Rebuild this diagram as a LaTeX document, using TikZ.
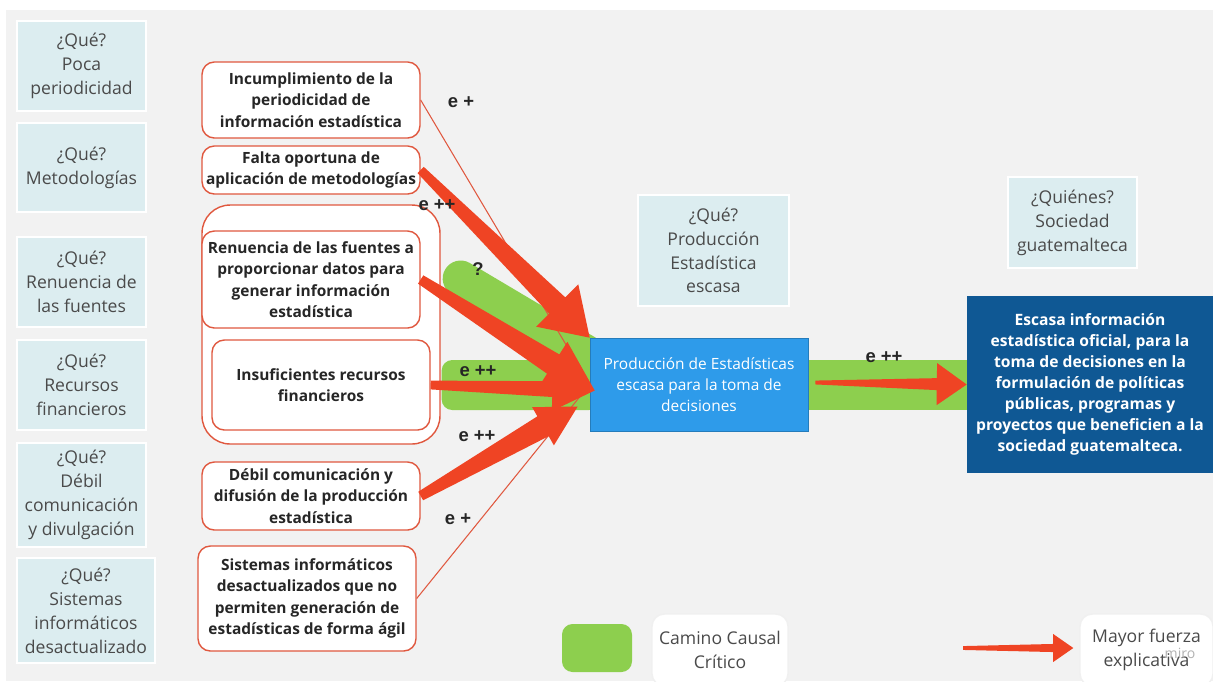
\documentclass[tikz,border=0pt]{standalone}
\usepackage{fontspec}
\setmainfont{Open Sans}
\newfontfamily\lblfont{Liberation Sans}
\usetikzlibrary{calc}
\usetikzlibrary{backgrounds}
\definecolor{fondo}{HTML}{F2F2F2}
\definecolor{celeste}{HTML}{DCEDF0}
\definecolor{grisq}{HTML}{4A4A4A}
\definecolor{rojoborde}{HTML}{E0583F}
\definecolor{rojoflecha}{HTML}{EF4424}
\definecolor{verde}{HTML}{8DCF4E}
\definecolor{azul}{HTML}{2E9BEA}
\definecolor{azuloscuro}{HTML}{0F5894}
\tikzset{
  que/.style={fill=celeste, draw=white, line width=1pt, text=grisq, align=center,
    font=\fontsize{10}{13.6}\selectfont, inner sep=0pt},
  causa/.style={draw=rojoborde, fill=white, line width=0.8pt, rounded corners=7pt, align=center,
    text=black!85, font=\bfseries\fontsize{8.8}{12.2}\selectfont, inner sep=0pt},
  lbl/.style={font=\lblfont\bfseries\fontsize{10.5}{12}\selectfont, text=black!85},
  camino/.style={draw=verde, line width=0.72cm, line cap=round},
  relacion/.style={draw=rojoborde, line width=0.6pt},
  leyenda/.style={fill=white, draw=black!6, line width=0.8pt, rounded corners=7pt, align=center,
    text=grisq, font=\fontsize{10}{13.6}\selectfont, inner sep=0pt}
}
% fat red arrow: from, to, tail, neck, head half widths, head length
\newcommand{\fatarrow}[6]{%
  \coordinate (fa-cuello) at ($(#2)!#6!(#1)$);
  \fill[rojoflecha] ($(#1)!#3!90:(#2)$) -- ($(fa-cuello)!#4!90:(#2)$) -- ($(fa-cuello)!#5!90:(#2)$) -- (#2)
    -- ($(fa-cuello)!#5!-90:(#2)$) -- ($(fa-cuello)!#4!-90:(#2)$) -- ($(#1)!#3!-90:(#2)$) -- cycle;}

\begin{document}
\begin{tikzpicture}[x=0.02cm, y=-0.02cm]
    \useasboundingbox (0,0) rectangle (1213,681);
    \clip (0,0) rectangle (1213,681);
    \begin{scope}[on background layer]
        \fill[fondo] (6,10) rectangle (1213,681);
    \end{scope}

    \node[que, minimum width=2.58cm, minimum height=1.8cm] (q1) at (81.5,66) {¿Qué?\\Poca\\periodicidad};
    \node[que, minimum width=2.58cm, minimum height=1.78cm] (q2) at (81.5,167.5) {¿Qué?\\Metodologías};
    \node[que, minimum width=2.58cm, minimum height=1.8cm] (q3) at (81.5,282) {¿Qué?\\Renuencia de\\las fuentes};
    \node[que, minimum width=2.58cm, minimum height=1.8cm] (q4) at (81.5,385) {¿Qué?\\Recursos\\financieros};
    \node[que, minimum width=2.58cm, minimum height=2.08cm] (q5) at (81.5,495) {¿Qué?\\Débil\\comunicación\\y divulgación};
    \node[que, minimum width=2.76cm, minimum height=2.1cm] (q6) at (86,610.5) {¿Qué?\\Sistemas\\informáticos\\desactualizado};

    \node[causa, minimum width=4.76cm, minimum height=4.78cm, rounded corners=16pt] (grupo) at (321,324.5) {};
    \node[causa, minimum width=4.36cm, minimum height=1.52cm] (A) at (311,100) {Incumplimiento de la\\periodicidad de\\información estadística};
    \node[causa, minimum width=4.36cm, minimum height=0.96cm] (B) at (311,170) {Falta oportuna de\\aplicación de metodologías};
    \node[causa, minimum width=4.36cm, minimum height=1.94cm] (C) at (311,279.5) {Renuencia de las fuentes a\\proporcionar datos para\\generar información\\estadística};
    \node[causa, minimum width=4.36cm, minimum height=1.8cm] (D) at (321,385) {Insuficientes recursos\\financieros};
    \node[causa, minimum width=4.36cm, minimum height=1.36cm] (E) at (311,496) {Débil comunicación y\\difusión de la producción\\estadística};
    \node[causa, minimum width=4.36cm, minimum height=2.1cm] (F) at (307,598.5) {Sistemas informáticos\\desactualizados que no\\permiten generación de\\estadísticas de forma ágil};

    \node[que, minimum width=3.02cm, minimum height=2.22cm] (qprod) at (713.5,250.5) {¿Qué?\\Producción\\Estadística\\escasa};
    \node[fill=azul, draw=azul!80!black, line width=0.4pt, text=white, align=center, minimum width=4.36cm, minimum height=1.86cm,
        font=\fontsize{8.8}{11.9}\selectfont, inner sep=0pt] (prod) at (699,384.5) {Producción de Estadísticas\\escasa para la toma de\\decisiones};
    \node[que, minimum width=2.58cm, minimum height=1.82cm] (qquien) at (1072.5,222.5) {¿Quiénes?\\Sociedad\\guatemalteca};
    \node[fill=azuloscuro, text=white, align=center, minimum width=4.92cm, minimum height=3.54cm,
        font=\bfseries\fontsize{8.9}{12}\selectfont, inner sep=0pt] (res) at (1090,384.5) {Escasa información\\estadística oficial, para la\\toma de decisiones en la\\formulación de políticas\\públicas, programas y\\proyectos que beneficien a la\\sociedad guatemalteca.};

    \begin{scope}[on background layer]
        \draw[camino] ($(grupo.east)+(20,-46)$) -- ($(prod.west)+(5,-26.5)$);
        \fill[verde, rounded corners=6pt] ($(grupo.east)+(1,35.5)$) rectangle ($(prod.west)+(10,25.5)$);
        \fill[verde] ($(prod.east)+(-5,-24.5)$) rectangle ($(res.west)+(5,25.5)$);
    \end{scope}

    \draw[relacion] (A.east) -- (prod.west);
    \draw[relacion] (F.east) -- (prod.west);

    \coordinate (puntaC) at ($(prod.west)+(5,6)$);
    \coordinate (puntaE) at ($(prod.west)+(-12,22)$);
    \fatarrow{B.east}{prod.north west}{2.5pt}{6.5pt}{17pt}{26pt}
    \fatarrow{C.east}{puntaC}{2.8pt}{6.5pt}{15pt}{28pt}
    \fatarrow{D.east}{puntaC}{2.5pt}{4.5pt}{12.5pt}{24pt}
    \fatarrow{E.east}{puntaE}{2.8pt}{6.5pt}{12.5pt}{22.7pt}
    \coordinate (salida) at ($(prod.east)+(7,-2)$);
    \fatarrow{salida}{res.west}{1.1pt}{3.4pt}{12pt}{17pt}

    \node[lbl] (l1) at (461,102) {e +};
    \node[lbl] (l2) at (437,205) {e ++};
    \node[lbl] (l3) at (478,269) {?};
    \node[lbl] (l4) at (478,371) {e ++};
    \node[lbl] (l5) at (477,436) {e ++};
    \node[lbl] (l6) at (458,519) {e +};
    \node[lbl] (l7) at (884,357) {e ++};

    \node[fill=verde, rounded corners=6pt, minimum width=1.4cm, minimum height=0.96cm] (leyverde) at (597,648) {};
    \node[leyenda, minimum width=2.72cm, minimum height=1.44cm] (ley1) at (720,650) {Camino Causal\\Crítico};
    \node[leyenda, minimum width=2.66cm, minimum height=1.44cm] (ley2) at (1146.5,650) {Mayor fuerza\\explicativa};
    \coordinate (leyflecha) at (963,648);
    \coordinate (leypunta) at ($(ley2.west)+(-6,-2)$);
    \fatarrow{leyflecha}{leypunta}{1.1pt}{2.3pt}{8pt}{11.5pt}
    \node[text=black!30, font=\fontsize{8}{9}\selectfont] (miro) at (1180,653) {miro};
\end{tikzpicture}
\end{document}
